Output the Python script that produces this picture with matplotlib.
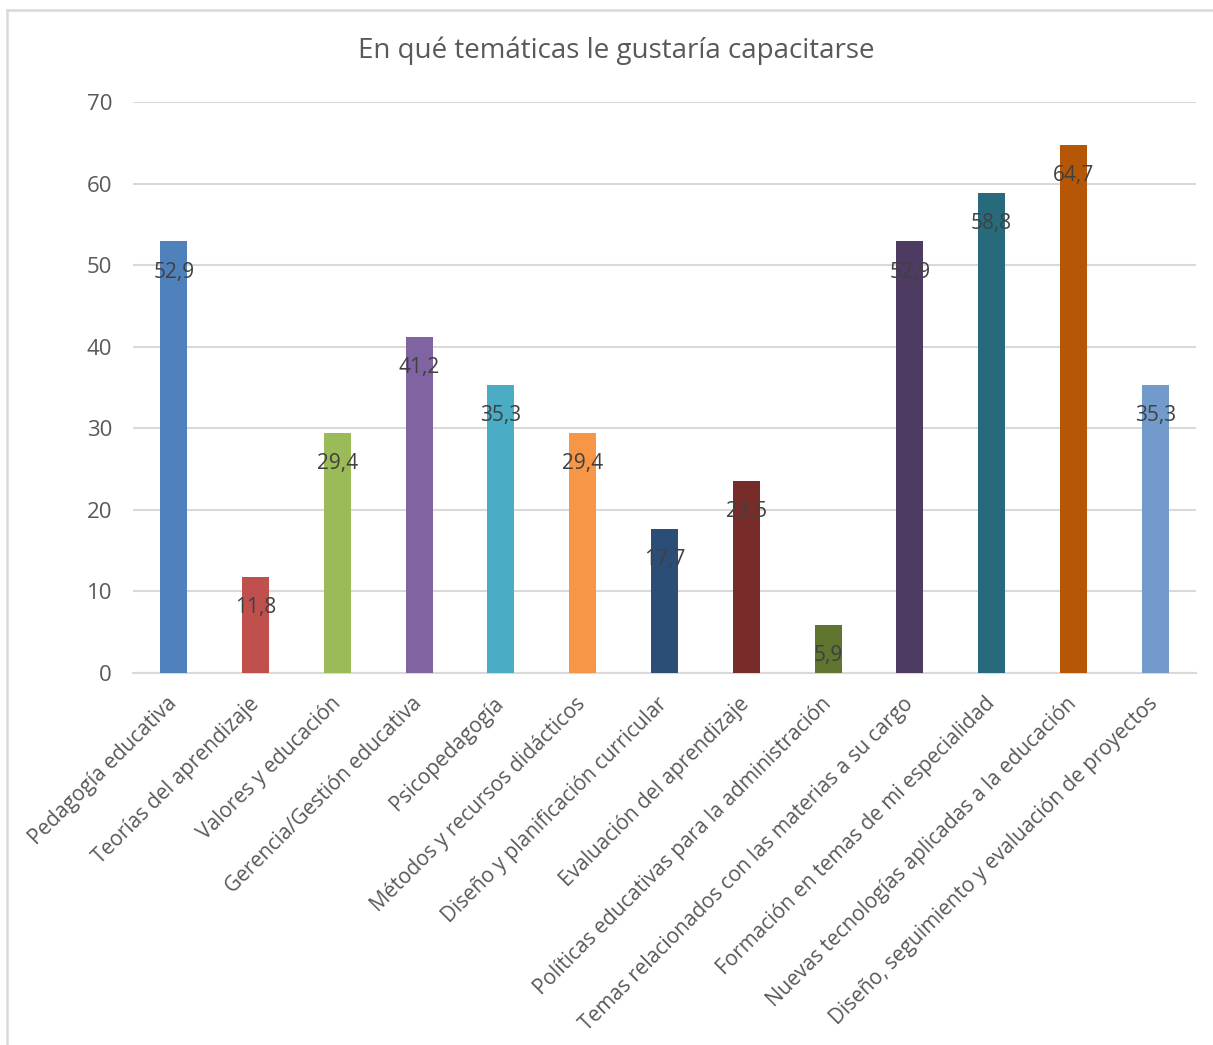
import matplotlib
matplotlib.use("Agg")
import matplotlib.pyplot as plt
from matplotlib.lines import Line2D

categories = [
    "Pedagogía educativa",
    "Teorías del aprendizaje",
    "Valores y educación",
    "Gerencia/Gestión educativa",
    "Psicopedagogía",
    "Métodos y recursos didácticos",
    "Diseño y planificación curricular",
    "Evaluación del aprendizaje",
    "Políticas educativas para la administración",
    "Temas relacionados con las materias a su cargo",
    "Formación en temas de mi especialidad",
    "Nuevas tecnologías aplicadas a la educación",
    "Diseño, seguimiento y evaluación de proyectos",
]
values = [52.9, 11.8, 29.4, 41.2, 35.3, 29.4, 17.7, 23.5, 5.9, 52.9, 58.8, 64.7, 35.3]
colors = ["#4F81BD", "#C0504D", "#9BBB59", "#8064A2", "#4BACC6", "#F79646",
          "#2C4D75", "#772C2A", "#5F7530", "#4D3B62", "#276A7C", "#B65708", "#729ACA"]
yticks = [0, 10, 20, 30, 40, 50, 60, 70]
title = "En qué temáticas le gustaría capacitarse"

plt.rcParams["font.family"] = ["Open Sans", "DejaVu Sans"]

fig = plt.figure(figsize=(12.13, 10.45), dpi=100)
ax = fig.add_axes([0.1096, 0.356, 0.8764, 0.5464])

x = list(range(len(categories)))
bars = ax.bar(x, values, width=0.33, color=colors, zorder=3)

for xi, v in zip(x, values):
    ax.annotate(f"{v:.1f}".replace(".", ","), xy=(xi, v), xytext=(0, -22),
                textcoords="offset points", ha="center", va="center",
                fontsize=15, color="#404040", zorder=4)

ax.set_xlim(-0.5, len(categories) - 0.5)
ax.set_ylim(0, 70)
ax.set_yticks(yticks)
ax.set_yticklabels([str(t) for t in yticks], fontsize=16, color="#595959")
ax.yaxis.grid(True, color="#D9D9D9", linewidth=1.5, zorder=0)
ax.set_axisbelow(True)
ax.tick_params(axis="both", length=0)
ax.tick_params(axis="y", pad=15)
for s in ["top", "right", "left"]:
    ax.spines[s].set_visible(False)
ax.spines["bottom"].set_color("#D9D9D9")
ax.spines["bottom"].set_linewidth(1.5)

ax.set_xticks(x)
ax.set_xticklabels(categories, rotation=45, ha="right", va="center",
                   rotation_mode="anchor", fontsize=15, color="#595959")
ax.tick_params(axis="x", pad=20)

fig.text(616 / 1213, 1 - 51 / 1045, title, ha="center", va="center",
         fontsize=20, color="#595959")

# chart frame
frame_color = "#D9D9D9"
fig.add_artist(Line2D([7 / 1213, 1.0], [1 - 10 / 1045] * 2, color=frame_color,
                      linewidth=1.8, transform=fig.transFigure))
fig.add_artist(Line2D([7 / 1213] * 2, [0.0, 1 - 10 / 1045], color=frame_color,
                      linewidth=1.8, transform=fig.transFigure))

fig.savefig("out.png", dpi=100, facecolor="white")
